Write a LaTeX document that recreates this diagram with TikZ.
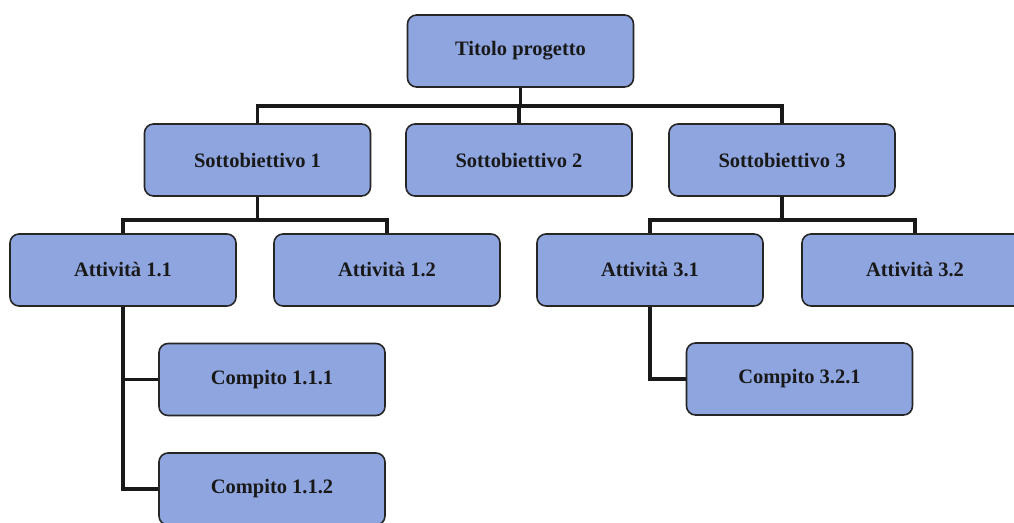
\documentclass[tikz,border=0pt]{standalone}
\usepackage{fontspec}
\setmainfont{Liberation Serif}
\begin{document}
\begin{tikzpicture}[x=1pt,y=-1pt,
  box/.style={draw=black!85,line width=1.6pt,fill=boxblue,rounded corners=9pt,
    minimum width=226pt,minimum height=72pt,inner sep=0pt,
    font=\fontsize{20.5}{24}\selectfont\bfseries,text=black!90},
  link/.style={line width=3.2pt,black!90}]
\definecolor{boxblue}{RGB}{142,165,224}
\useasboundingbox (0,0) rectangle (1014,522);
\node[box] (t) at (520.5,51) {Titolo progetto};
\node[box] (s1) at (257.5,160) {Sottobiettivo 1};
\node[box] (s2) at (519,160) {Sottobiettivo 2};
\node[box] (s3) at (782,160) {Sottobiettivo 3};
\node[box] (a11) at (123,270) {Attività 1.1};
\node[box] (a12) at (387,270) {Attività 1.2};
\node[box] (a31) at (650,270) {Attività 3.1};
\node[box] (a32) at (915,270) {Attività 3.2};
\node[box] (c111) at (272,379.5) {Compito 1.1.1};
\node[box] (c112) at (272,489) {Compito 1.1.2};
\node[box] (c321) at (799.5,379) {Compito 3.2.1};
% connectors
\draw[link] (t.south) -- (t.south |- 0,106);
\draw[link] (s1.north) -- (s1.north |- 0,106) -- (s3.north |- 0,106) -- (s3.north);
\draw[link] (s2.north) -- (s2.north |- 0,106);
\draw[link] (s1.south) -- (s1.south |- 0,220);
\draw[link] (a11.north) -- (a11.north |- 0,220) -- (a12.north |- 0,220) -- (a12.north);
\draw[link] (s3.south) -- (s3.south |- 0,220);
\draw[link] (a31.north) -- (a31.north |- 0,220) -- (a32.north |- 0,220) -- (a32.north);
\draw[link] (a11.south) -- (a11.south |- c112.west) -- (c112.west);
\draw[link] (a11.south |- c111.west) -- (c111.west);
\draw[link] (a31.south) -- (a31.south |- c321.west) -- (c321.west);
\end{tikzpicture}
\end{document}
